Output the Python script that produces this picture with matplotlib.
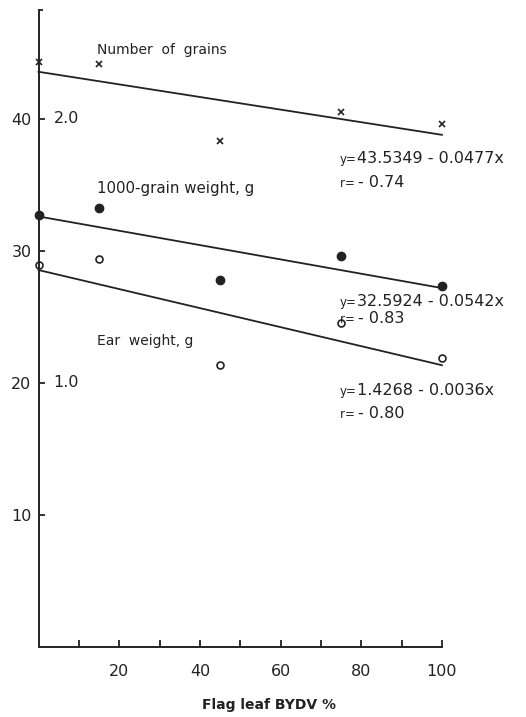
import matplotlib
matplotlib.use("Agg")
import matplotlib.pyplot as plt
import matplotlib.transforms as mtransforms

plt.rcParams['font.family'] = ['DejaVu Sans']

# ---- data ----
bydv = [0, 15, 45, 75, 100]
grains = [44.3, 44.1, 38.3, 40.5, 39.6]              # number of grains
tgw = [32.7, 33.2, 27.8, 29.6, 27.3]                 # 1000-grain weight, g
ear = [1.445, 1.47, 1.067, 1.225, 1.093]             # ear weight, g
ear_scale = 20.0                                     # 1.0 g <-> 20 on left axis

fits = {
    'grains': (43.5349, -0.0477, -0.74),
    'tgw': (32.5924, -0.0542, -0.83),
    'ear': (1.4268, -0.0036, -0.80),
}
x_fit = [0, 100]

y_ticks = [10, 20, 30, 40]
ear_ticks = [1.0, 2.0]
x_ticks = [10, 20, 30, 40, 50, 60, 70, 80, 90, 100]
x_ticklabels = ['', '20', '', '40', '', '60', '', '80', '', '100']

ink = '#222222'

fig = plt.figure(figsize=(5.26, 7.17), dpi=100)
ax = fig.add_axes([0.0732, 0.0973, 0.767, 0.8886])
ax.set_xlim(0, 100)
ax.set_ylim(0, 48.2)

for s in ['top', 'right']:
    ax.spines[s].set_visible(False)
for s in ['left', 'bottom']:
    ax.spines[s].set_color(ink)
    ax.spines[s].set_linewidth(1.4)

ax.set_xticks(x_ticks)
ax.set_xticklabels(x_ticklabels)
ax.set_yticks(y_ticks)
ax.set_yticks([48.2], minor=True)
ax.tick_params(axis='x', direction='in', length=5, width=1.3, color=ink,
               labelsize=11.5, pad=12, labelcolor=ink)
ax.tick_params(axis='y', direction='in', length=4, width=1.3, color=ink,
               labelsize=11.5, pad=5, labelcolor=ink)
ax.tick_params(axis='y', which='minor', direction='in', length=3, width=1.3, color=ink)

# secondary (ear weight) labels inside the axis
trans = mtransforms.blended_transform_factory(ax.transAxes, ax.transData)
for v in ear_ticks:
    ax.text(0.037, v * ear_scale, f'{v:.1f}', transform=trans, ha='left', va='center',
            fontsize=11.5, color=ink)

# regression lines
def fit_line(key, scale=1.0):
    a, b, _ = fits[key]
    return [scale * (a + b * x) for x in x_fit]

lw = 1.3
ax.plot(x_fit, fit_line('grains'), color=ink, lw=lw, clip_on=False)
ax.plot(x_fit, fit_line('tgw'), color=ink, lw=lw, clip_on=False)
ax.plot(x_fit, fit_line('ear', ear_scale), color=ink, lw=lw, clip_on=False)

# points
ax.plot(bydv, grains, 'x', color=ink, ms=4, mew=1.2, clip_on=False)
ax.plot(bydv, tgw, 'o', color=ink, ms=6, clip_on=False)
ax.plot(bydv, [e * ear_scale for e in ear], 'o', mfc='white', mec=ink, ms=5, mew=1.2,
        clip_on=False)

# series labels
ax.text(14.5, 45.2, 'Number  of  grains', fontsize=10, color=ink, va='center')
ax.text(14.5, 34.7, '1000-grain weight, g', fontsize=10.8, color=ink, va='center')
ax.text(14.5, 23.2, 'Ear  weight, g', fontsize=10, color=ink, va='center')

# equations
def equation(x, y, key, yr):
    a, b, r = fits[key]
    t = ax.text(x, y, 'y=', fontsize=8.5, color=ink, va='baseline')
    ax.annotate(f'{a:.4f} - {abs(b):.4f}x', xy=(1, 0), xycoords=t, va='bottom',
                fontsize=11.5, color=ink)
    t2 = ax.text(x, yr, 'r= ', fontsize=8.5, color=ink, va='baseline')
    ax.annotate(f'- {abs(r):.2f}', xy=(1, 0), xycoords=t2, va='bottom',
                fontsize=11.5, color=ink)

equation(74.7, 36.6, 'grains', 34.85)
equation(74.7, 25.8, 'tgw', 24.55)
equation(74.7, 19.1, 'ear', 17.35)

ax.text(57.1, -4.4, 'Flag leaf BYDV %', fontsize=10, fontweight='bold', color=ink,
        ha='center', va='center', clip_on=False)

fig.savefig('out.png', dpi=100, facecolor='white')
